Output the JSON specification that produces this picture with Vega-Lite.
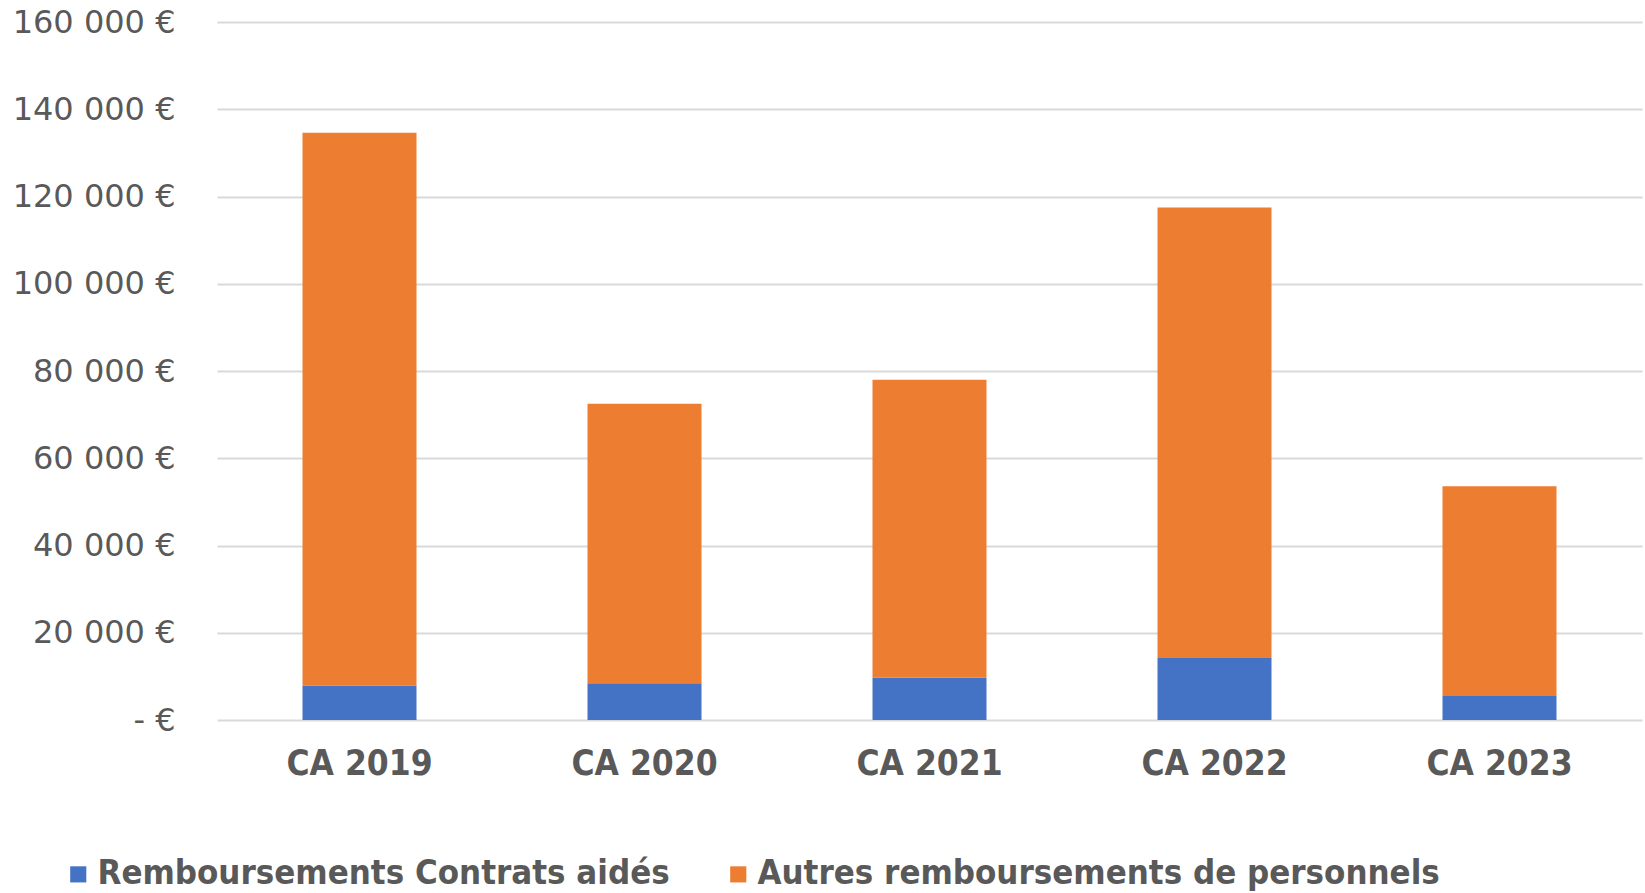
{
  "$schema": "https://vega.github.io/schema/vega-lite/v6.json",
  "width": 1425,
  "height": 698,
  "autosize": {"type": "none"},
  "padding": {"left": 217, "top": 22, "right": 3, "bottom": 173},
  "background": "white",
  "data": {
    "values": [
      {"annee": "CA 2019", "serie": "Remboursements Contrats aidés", "ordre": 1, "montant": 7900},
      {"annee": "CA 2019", "serie": "Autres remboursements de personnels", "ordre": 2, "montant": 126700},
      {"annee": "CA 2020", "serie": "Remboursements Contrats aidés", "ordre": 1, "montant": 8400},
      {"annee": "CA 2020", "serie": "Autres remboursements de personnels", "ordre": 2, "montant": 64100},
      {"annee": "CA 2021", "serie": "Remboursements Contrats aidés", "ordre": 1, "montant": 9700},
      {"annee": "CA 2021", "serie": "Autres remboursements de personnels", "ordre": 2, "montant": 68300},
      {"annee": "CA 2022", "serie": "Remboursements Contrats aidés", "ordre": 1, "montant": 14200},
      {"annee": "CA 2022", "serie": "Autres remboursements de personnels", "ordre": 2, "montant": 103300},
      {"annee": "CA 2023", "serie": "Remboursements Contrats aidés", "ordre": 1, "montant": 5500},
      {"annee": "CA 2023", "serie": "Autres remboursements de personnels", "ordre": 2, "montant": 48100}
    ]
  },
  "mark": {"type": "bar"},
  "encoding": {
    "x": {
      "field": "annee",
      "type": "nominal",
      "scale": {"paddingInner": 0.6, "paddingOuter": 0.3},
      "axis": {
        "title": null,
        "labelAngle": 0,
        "domain": false,
        "ticks": false,
        "labelFont": "DejaVu Sans Condensed",
        "labelFontWeight": "bold",
        "labelFontSize": 35,
        "labelColor": "#595959",
        "labelPadding": 26
      }
    },
    "y": {
      "field": "montant",
      "type": "quantitative",
      "aggregate": "sum",
      "stack": "zero",
      "scale": {"domain": [0, 160000], "nice": false},
      "axis": {
        "title": null,
        "values": [0, 20000, 40000, 60000, 80000, 100000, 120000, 140000, 160000],
        "domain": false,
        "ticks": false,
        "grid": true,
        "gridColor": "#D9D9D9",
        "gridWidth": 2,
        "labelFont": "DejaVu Sans",
        "labelFontSize": 32,
        "labelColor": "#595959",
        "labelPadding": 42,
        "labelExpr": "datum.value == 0 ? '- €' : replace(format(datum.value, ',d'), ',', ' ') + ' €'"
      }
    },
    "color": {
      "field": "serie",
      "type": "nominal",
      "scale": {
        "domain": ["Remboursements Contrats aidés", "Autres remboursements de personnels"],
        "range": ["#4472C4", "#ED7D31"]
      },
      "legend": {
        "title": null,
        "orient": "none",
        "legendX": -156,
        "legendY": 835,
        "direction": "horizontal",
        "symbolType": "square",
        "symbolSize": 260,
        "symbolStrokeWidth": 0,
        "labelFont": "DejaVu Sans Condensed",
        "labelFontWeight": "bold",
        "labelFontSize": 34.5,
        "labelColor": "#595959",
        "labelOffset": 2,
        "columnPadding": 51,
        "labelLimit": 1000
      }
    },
    "order": {"field": "ordre", "type": "quantitative"}
  },
  "config": {"view": {"stroke": null}}
}
